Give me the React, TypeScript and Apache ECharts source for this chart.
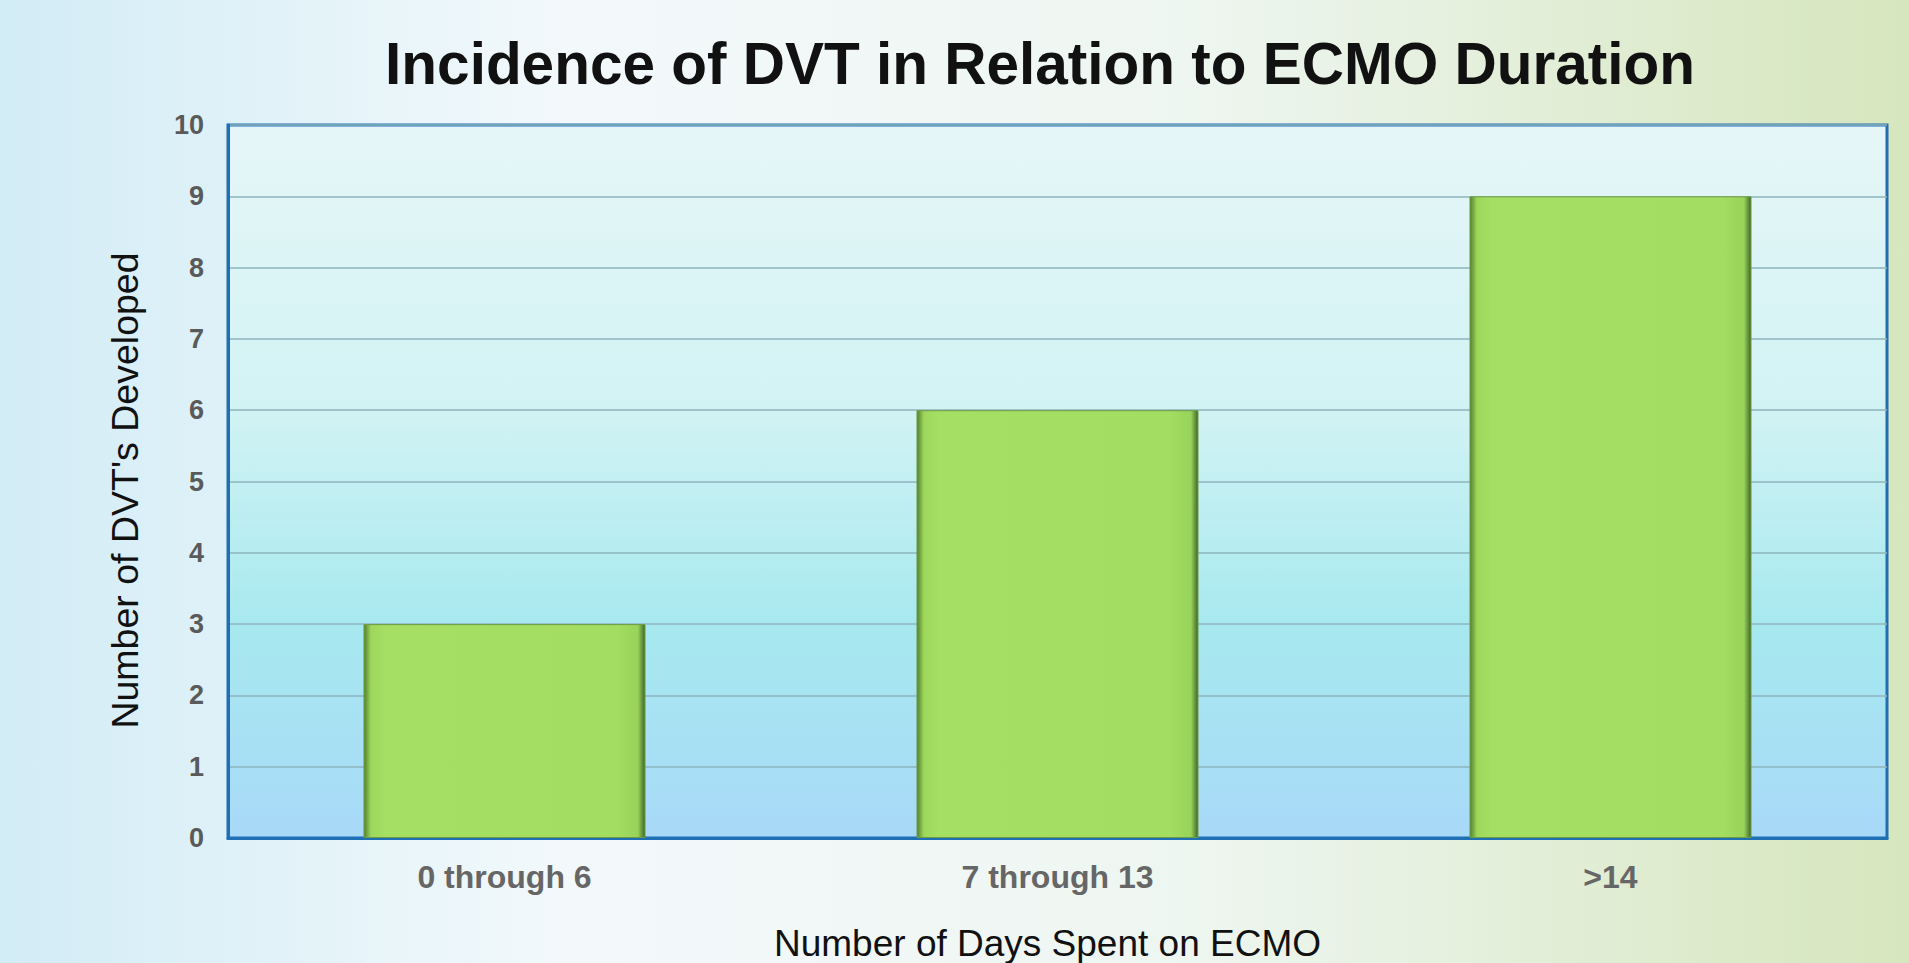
import React, { useEffect, useRef } from "react";
import * as echarts from "echarts";

const titleText = "Incidence of DVT in Relation to ECMO Duration";
const categories = ["0 through 6", "7 through 13", ">14"];
const dvtCounts = [3, 6, 9];
const yTicks = { min: 0, max: 10, interval: 1 };
const xAxisName = "Number of Days Spent on ECMO";
const yAxisName = "Number of DVT's Developed";

export default function App() {
  const ref = useRef<HTMLDivElement>(null);
  useEffect(() => {
    if (!ref.current) return;
    const chart = echarts.init(ref.current, undefined, { renderer: "svg" });
    const font = "'Liberation Sans', Arial, sans-serif";
    chart.setOption({
      animation: false,
      backgroundColor: new echarts.graphic.LinearGradient(0, 0, 1, 0, [
        { offset: 0, color: "#d2ecf6" },
        { offset: 0.3, color: "#f3f9fb" },
        { offset: 0.62, color: "#eef6f1" },
        { offset: 1, color: "#d6e6bd" },
      ]),
      title: {
        text: titleText,
        left: 1035,
        textAlign: "center",
        top: 29,
        textStyle: { fontFamily: font, fontSize: 58.5, fontWeight: "bold", color: "#111" },
      },
      grid: {
        left: 228,
        right: 22,
        top: 125,
        bottom: 125,
        outerBoundsMode: "none",
        containLabel: false,
        show: true,
        backgroundColor: new echarts.graphic.LinearGradient(0, 0, 0, 1, [
          { offset: 0, color: "#e6f6f8" },
          { offset: 0.4, color: "#d2f3f4" },
          { offset: 0.7, color: "#a7e9ef" },
          { offset: 1, color: "#a8d9f8" },
        ]),
        borderColor: "#1f6fb5",
        borderWidth: 3,
      },
      xAxis: {
        type: "category",
        data: categories,
        name: xAxisName,
        nameLocation: "middle",
        nameGap: 87,
        nameTextStyle: {
          fontFamily: font,
          fontSize: 37,
          color: "#111",
          verticalAlign: "top",
          padding: [0, 20, 0, 0],
        },
        axisLine: { show: true, lineStyle: { color: "#1f6fb5", width: 3 } },
        axisTick: { show: false },
        axisLabel: { fontFamily: font, fontSize: 32, fontWeight: "bold", color: "#666", margin: 23 },
      },
      yAxis: {
        type: "value",
        min: yTicks.min,
        max: yTicks.max,
        interval: yTicks.interval,
        name: yAxisName,
        nameLocation: "middle",
        nameGap: 84,
        nameTextStyle: { fontFamily: font, fontSize: 37.5, color: "#111", padding: [0, 18, 0, 0] },
        axisLine: { show: true, lineStyle: { color: "#1f6fb5", width: 3 } },
        axisTick: { show: false },
        axisLabel: { fontFamily: font, fontSize: 27, fontWeight: "bold", color: "#5a5a5a", margin: 24 },
        splitLine: { lineStyle: { color: "#8db4bd", width: 1.5 } },
      },
      series: [
        {
          type: "bar",
          data: dvtCounts,
          barWidth: "51%",
          itemStyle: {
            color: new echarts.graphic.LinearGradient(0, 0, 1, 0, [
              { offset: 0, color: "#54802f" },
              { offset: 0.025, color: "#9dd85c" },
              { offset: 0.08, color: "#a5df64" },
              { offset: 0.9, color: "#a3de62" },
              { offset: 0.975, color: "#98d35a" },
              { offset: 1, color: "#3f6527" },
            ]),
            borderColor: "#6e9c45",
            borderWidth: 1,
          },
        },
      ],
    });
    return () => chart.dispose();
  }, []);
  return (
    <div
      ref={ref}
      style={{ position: "fixed", left: 0, top: 0, width: 1909, height: 963 }}
    />
  );
}
